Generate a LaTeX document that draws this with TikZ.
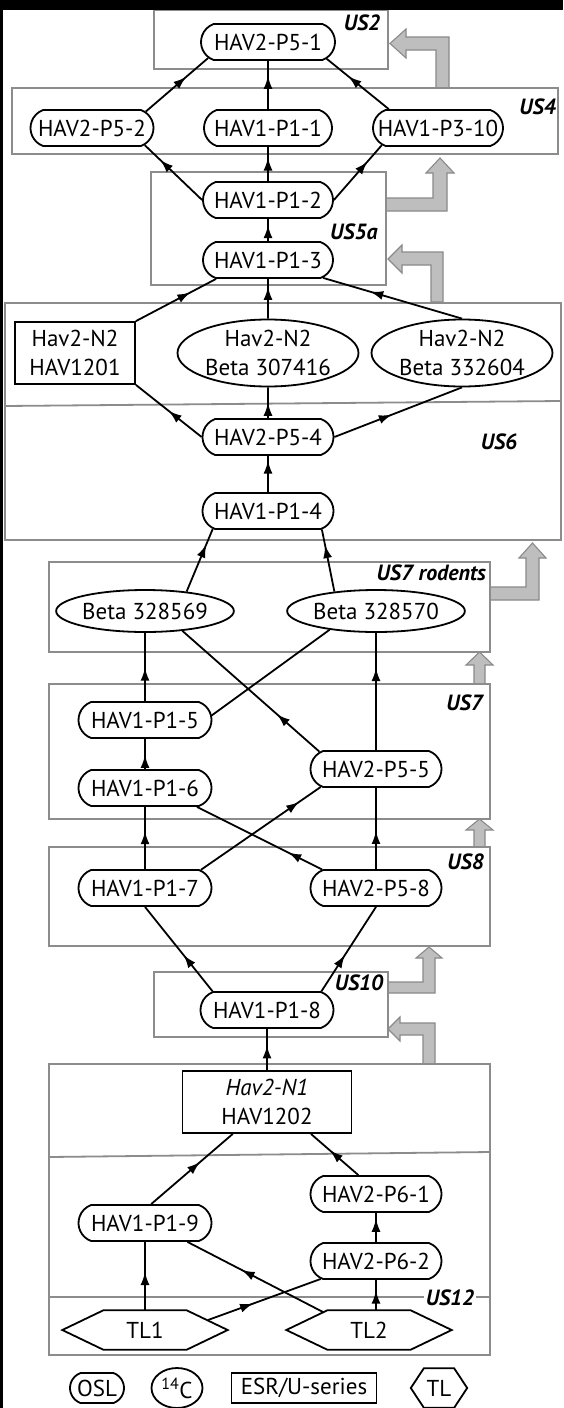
\documentclass[tikz,border=0pt]{standalone}
\usepackage{fontspec}
\setmainfont{PT Sans}
\usetikzlibrary{shapes.misc,shapes.geometric,arrows.meta,decorations.markings,calc}
\definecolor{boxgray}{HTML}{8C8C8C}
\definecolor{arrowfill}{HTML}{BEBEBE}
\definecolor{arrowline}{HTML}{8A8A8A}
\newcommand\nodefont{\fontsize{23}{28.5}\selectfont}
\newcommand\usfont{\fontsize{22}{26}\selectfont\bfseries\itshape}
\newcommand\drawhex[2]{\draw[nodeline] (#1.west) -- ([xshift=#2]#1.north west) -- ([xshift=-#2]#1.north east) -- (#1.east) -- ([xshift=-#2]#1.south east) -- ([xshift=#2]#1.south west) -- cycle;}
\begin{document}
\begin{tikzpicture}[x=1pt,y=-1pt,
  nodeline/.style={draw=black, line width=1.8pt},
  osl/.style={nodeline, rounded rectangle, rounded rectangle arc length=140, minimum width=#1, minimum height=36pt, inner sep=0pt, font=\nodefont},
  osl/.default=131pt,
  ell/.style={nodeline, ellipse, inner sep=0pt, align=center, font=\nodefont},
  esr/.style={nodeline, rectangle, inner sep=0pt, align=center, font=\nodefont},
  hexn/.style={inner sep=0pt, font=\nodefont},
  lab/.style={font=\usfont, inner sep=1pt},
  flow/.style={line width=1.8pt, postaction={decorate}, decoration={markings, mark=at position #1 with {\arrow{Latex[length=13pt,width=9pt]}}}},
  flow/.default=0.55,
  plainline/.style={line width=1.8pt},
  garrow/.style={fill=arrowfill, draw=arrowline, line width=1.1pt},
  usbox/.style={draw=boxgray, line width=1.8pt}
]
\useasboundingbox (0,0) rectangle (563,1408);
\fill[white] (0,0) rectangle (563,1408);

% gray arrows
\path[garrow] (449,88) -- (449,37) -- (406,37) -- (406,29) -- (390,43.5) -- (406,58) -- (406,50) -- (436,50) -- (436,88) -- cycle;
\path[garrow] (386,198) -- (433,198) -- (433,173) -- (426,173) -- (440,158) -- (454,173) -- (447,173) -- (447,211) -- (386,211) -- cycle;
\path[garrow] (443,302) -- (443,252) -- (402,252) -- (402,245) -- (388,259) -- (402,273) -- (402,265) -- (431,265) -- (431,302) -- cycle;
\path[garrow] (490,587) -- (526,587) -- (526,558) -- (519,558) -- (532.5,543) -- (546,558) -- (539,558) -- (539,600) -- (490,600) -- cycle;
\path[garrow] (474,684) -- (474,665) -- (466,665) -- (479.5,652) -- (493,665) -- (485,665) -- (485,684) -- cycle;
\path[garrow] (474,847) -- (474,830) -- (466,830) -- (479.5,819) -- (493,830) -- (485,830) -- (485,847) -- cycle;
\path[garrow] (388,982) -- (423,982) -- (423,958) -- (416,958) -- (429,947) -- (442,958) -- (435,958) -- (435,993) -- (388,993) -- cycle;
\path[garrow] (435,1064) -- (435,1023) -- (400,1023) -- (400,1017) -- (388,1029) -- (400,1041) -- (400,1035) -- (423,1035) -- (423,1064) -- cycle;

% unit boxes
\draw[usbox] (154,10) rectangle (388,69);
\draw[usbox] (12,88) rectangle (558,154);
\draw[usbox] (151,172) rectangle (386,285);
\draw[usbox] (5,303) rectangle (561,540);
\draw[usbox] (5,406) -- (561,401);
\draw[usbox] (49,562) rectangle (490,652);
\draw[usbox] (49,684) rectangle (490,819);
\draw[usbox] (49,847) rectangle (490,946);
\draw[usbox] (154,972) rectangle (388,1037);
\draw[usbox] (49,1064) rectangle (490,1355);
\draw[usbox] (49,1157) -- (490,1152);
\draw[usbox] (49,1297) -- (490,1297);

% unit labels
\node[lab] (lUS2) at (362,23) {US2};
\node[lab, anchor=east] (lUS4) at (557,107) {US4};
\node[lab] (lUS5a) at (354,232) {US5a};
\node[lab] (lUS6) at (499,442) {US6};
\node[lab, anchor=east] (lUS7r) at (487,573) {US7 rodents};
\node[lab, anchor=east] (lUS7) at (484,703) {US7};
\node[lab, anchor=east] (lUS8) at (485,862) {US8};
\node[lab] (lUS10) at (359,983) {US10};
\node[lab, fill=white, inner sep=2pt] (lUS12) at (450,1298) {US12};

% dated samples
\node[osl=134pt] (P51) at (268,42) {HAV2-P5-1};
\node[osl=123pt] (P52) at (92,128) {HAV2-P5-2};
\node[osl=128pt] (P11) at (268,128) {HAV1-P1-1};
\node[osl=130pt] (P310) at (438,128) {HAV1-P3-10};
\node[osl=130pt] (P12) at (268,200) {HAV1-P1-2};
\node[osl=130pt] (P13) at (268,260) {HAV1-P1-3};
\node[esr, minimum width=120pt, minimum height=62pt] (R1201) at (75,353) {Hav2-N2\\HAV1201};
\node[ell, minimum width=181pt, minimum height=67pt] (E307) at (268,353) {Hav2-N2\\Beta 307416};
\node[ell, minimum width=181pt, minimum height=67pt] (E332) at (462,353) {Hav2-N2\\Beta 332604};
\node[osl=131pt] (P54) at (268,437) {HAV2-P5-4};
\node[osl=131pt] (P14) at (268,511) {HAV1-P1-4};
\node[ell, minimum width=145pt, minimum height=42pt] (B569) at (145,611) {Beta 328569};
\node[ell, minimum width=145pt, minimum height=42pt] (B570) at (376,611) {Beta 328570};
\node[osl=133pt] (P15) at (145,720) {HAV1-P1-5};
\node[osl=133pt] (P16) at (145,788) {HAV1-P1-6};
\node[osl=131pt] (P55) at (376,769) {HAV2-P5-5};
\node[osl=133pt] (P17) at (145,888) {HAV1-P1-7};
\node[osl=131pt] (P58) at (376,888) {HAV2-P5-8};
\node[osl=133pt] (P18) at (267,1010) {HAV1-P1-8};
\node[esr, minimum width=169pt, minimum height=62pt] (R1202) at (267,1102) {\textit{Hav2-N1}\\HAV1202};
\node[osl=131pt] (P61) at (376,1194) {HAV2-P6-1};
\node[osl=133pt] (P19) at (145,1223) {HAV1-P1-9};
\node[osl=131pt] (P62) at (376,1261) {HAV2-P6-2};
\node[hexn, minimum width=165pt, minimum height=39pt] (TL1) at (145,1330) {TL1};
\node[hexn, minimum width=165pt, minimum height=39pt] (TL2) at (369,1330) {TL2};
\drawhex{TL1}{41pt}
\drawhex{TL2}{41pt}

% legend
\node[osl=54pt, minimum height=30pt] (LOSL) at (97,1388) {OSL};
\node[ell, minimum width=51pt, minimum height=40pt] (LC) at (177,1388) {\textsuperscript{14}C};
\node[esr, minimum width=145pt, minimum height=30pt] (LESR) at (304,1388) {ESR/U-series};
\node[hexn, minimum width=56pt, minimum height=39pt] (LTL) at (439,1388) {TL};
\drawhex{LTL}{13pt}

% connectors
\draw[flow=0.65] (P52.17) -- (P51.-165);
\draw[flow=0.69] (P11) -- (P51);
\draw[flow=0.65] (P310.159) -- (P51.-16);
\draw[flow=0.73] (P12.180) -- (P52.-18);
\draw[flow=0.69] (P12) -- (P11);
\draw[flow=0.7] (P12.0) -- (P310.-163);
\draw[flow=0.72] (P13) -- (P12);
\draw[flow=0.68] (R1201.north east) -- (P13.-160);
\draw[flow=0.8] (E307) -- (P13);
\draw[flow=0.66] (E332.north) -- (P13.-18);
\draw[flow=0.5] (P54.west) -- (R1201.south east);
\draw[flow=0.5] (P54) -- (E307);
\draw[flow=0.45] (P54.east) -- (E332.south);
\draw[flow=0.87] (P14) -- (P54);
\draw[flow=0.75] (B569.25) -- (P14.-162);
\draw[flow=0.75] (B570.155) -- (P14.-19);
\draw[flow=0.49] (P15) -- (B569);
\draw[plainline] (P15.4) -- (B570.-158);
\draw[flow=0.31] (P55.163) -- (B569.-28);
\draw[flow=0.7] (P55) -- (B570);
\draw[flow=0.47] (P16) -- (P15);
\draw[flow=0.61] (P17) -- (P16);
\draw[flow=0.82] (P17.18) -- (P55.-162);
\draw[flow=0.27] (P58.161) -- (P16.-20);
\draw[flow=0.47] (P58) -- (P55);
\draw[flow=0.43] (P18.161) -- (P17.south);
\draw[flow=0.43] (P18.19) -- (P58.south);
\draw[flow=0.6] (R1202) -- (P18);
\draw[flow=0.6] (P19.72) -- (R1202.-137);
\draw[flow=0.6] (P61.133) -- (R1202.-36);
\draw[flow=0.8] (P62) -- (P61);
\draw[flow=0.56] (TL1.north) -- (P19.south);
\draw[flow=0.6] ([xshift=-46pt,yshift=18pt]TL2.center) -- (P19.-24);
\draw[flow=0.4] ([xshift=63pt,yshift=10pt]TL1.center) -- (P62.-162);
\draw[flow=0.65] (P62.south |- TL2.north) -- (P62.south);

% frame strips
\fill[black] (0,0) rectangle (563,10);
\fill[black] (0,0) rectangle (3,1408);
\end{tikzpicture}
\end{document}
